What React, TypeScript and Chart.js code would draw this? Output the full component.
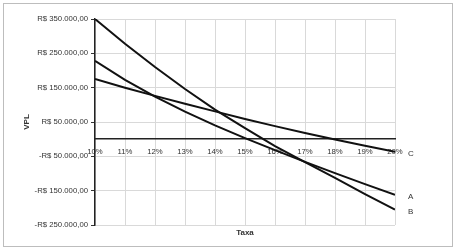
import React, { useEffect, useRef } from "react";
import { Chart, registerables } from "chart.js";

Chart.register(...registerables);

// Data
const rates = [10, 11, 12, 13, 14, 15, 16, 17, 18, 19, 20];
const seriesA = [228000, 173000, 124000, 80000, 40000, 3000, -32000, -66000, -99000, -131000, -162000];
const seriesB = [350000, 278000, 210000, 146000, 86000, 32000, -20000, -67000, -113000, -160000, -205000];
const seriesC = [175000, 150000, 126000, 103000, 81000, 59000, 38000, 18000, -1000, -19000, -37000];
const seriesNames = ["A", "B", "C"];
const yTicks = [-250000, -150000, -50000, 50000, 150000, 250000, 350000];
const xTitle = "Taxa";
const yTitle = "VPL";

const FAMILY = "'Liberation Sans', Arial, sans-serif";
const TEXT = "#333333";
const GRID = "#d9d9d9";
const LINE = "#111111";

const fmtThousands = (n: number) =>
  Math.round(n).toString().replace(/\B(?=(\d{3})+(?!\d))/g, ".") + ",00";
const brl = (v: number) => (v < 0 ? "-" : "") + "R$ " + fmtThousands(Math.abs(v));

const frame = {
  id: "frame",
  beforeDraw(chart: any) {
    const ctx = chart.ctx;
    ctx.save();
    ctx.fillStyle = "#ffffff";
    ctx.fillRect(0, 0, chart.width, chart.height);
    ctx.strokeStyle = "#bdbdbd";
    ctx.lineWidth = 1;
    ctx.strokeRect(3.5, 3.5, 449, 243);
    ctx.restore();
  },
};

const endLabels = {
  id: "endLabels",
  afterDatasetsDraw(chart: any) {
    const ctx = chart.ctx;
    ctx.save();
    ctx.font = `8px ${FAMILY}`;
    ctx.fillStyle = TEXT;
    ctx.textBaseline = "middle";
    ctx.textAlign = "left";
    chart.data.datasets.forEach((ds: any, i: number) => {
      const meta = chart.getDatasetMeta(i);
      const pt = meta.data[meta.data.length - 1];
      if (pt) ctx.fillText(ds.label, pt.x + 13, pt.y + 2);
    });
    ctx.restore();
  },
};

export default function App() {
  const ref = useRef<HTMLCanvasElement | null>(null);

  useEffect(() => {
    document.body.style.margin = "0";
    const canvas = ref.current;
    if (!canvas) return;
    const all = [seriesA, seriesB, seriesC];
    const chart = new Chart(canvas, {
      type: "line",
      data: {
        datasets: all.map((s, i) => ({
          label: seriesNames[i],
          data: s.map((v, j) => ({ x: rates[j], y: v })),
          borderColor: LINE,
          backgroundColor: LINE,
          borderWidth: 2,
          pointRadius: 0,
          tension: 0,
          fill: false,
          xAxisID: "x",
          yAxisID: "y",
        })),
      },
      options: {
        animation: false,
        responsive: true,
        maintainAspectRatio: false,
        layout: { padding: { top: 19, right: 63, bottom: 0, left: 0 } },
        plugins: { legend: { display: false }, tooltip: { enabled: false } },
        scales: {
          x: {
            type: "linear",
            position: "bottom",
            min: rates[0],
            max: rates[rates.length - 1],
            ticks: { stepSize: 1, display: false },
            grid: { color: GRID, drawTicks: false, lineWidth: 1 },
            border: { display: false },
            title: {
              display: true,
              text: xTitle,
              color: TEXT,
              font: { family: FAMILY, size: 8, weight: "bold" },
              padding: { top: 0, bottom: 14 },
            },
            afterFit: (s: any) => {
              s.height = 27;
            },
          },
          x2: {
            type: "linear",
            position: { y: 0 },
            min: rates[0],
            max: rates[rates.length - 1],
            ticks: {
              stepSize: 1,
              autoSkip: false,
              maxRotation: 0,
              padding: 4,
              color: TEXT,
              font: { family: FAMILY, size: 7.75 },
              callback: (v: any) => v + "%",
            },
            grid: { display: true, drawOnChartArea: false, tickLength: 4, tickColor: "rgba(0,0,0,0)" },
            border: { display: true, color: "#222222", width: 1.5 },
          },
          y: {
            type: "linear",
            position: "left",
            min: yTicks[0],
            max: yTicks[yTicks.length - 1],
            afterBuildTicks: (s: any) => {
              s.ticks = yTicks.map((v) => ({ value: v }));
            },
            ticks: {
              color: TEXT,
              padding: 3,
              font: { family: FAMILY, size: 7.75 },
              callback: (v: any) => brl(Number(v)),
            },
            grid: { color: GRID, tickColor: "#333333", tickLength: 4, lineWidth: 1 },
            border: { display: true, color: "#222222", width: 1.5 },
            title: {
              display: true,
              text: yTitle,
              color: TEXT,
              font: { family: FAMILY, size: 8, weight: "bold" },
              padding: { top: 22, bottom: 0 },
            },
            afterFit: (s: any) => {
              s.width = 95;
            },
          },
        },
      } as any,
      plugins: [frame, endLabels],
    });
    return () => chart.destroy();
  }, []);

  return (
    <div style={{ position: "relative", width: 458, height: 252 }}>
      <canvas ref={ref} />
    </div>
  );
}
